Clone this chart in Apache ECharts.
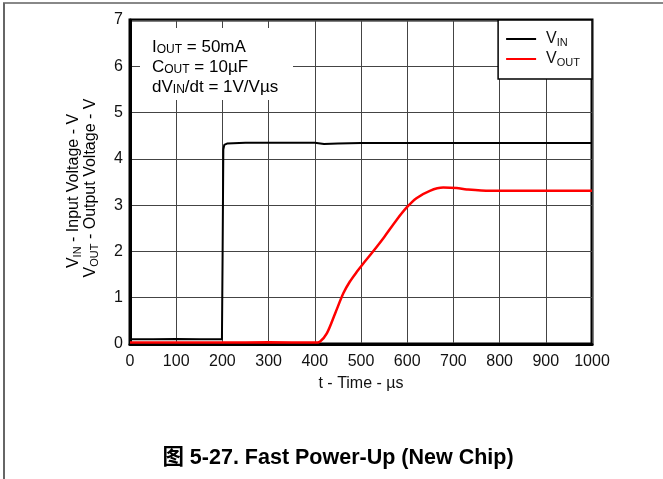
<!DOCTYPE html>
<html>
<head>
<meta charset="utf-8">
<script src="https://cdn.jsdelivr.net/npm/echarts@6/dist/echarts.min.js"></script>
<style>html,body{margin:0;padding:0;background:#fff}#c{width:663px;height:479px}</style>
</head>
<body>
<div id="c"></div>
<script>
// time (µs) and voltage samples
const vinTime = [0, 50, 100, 150, 199, 200.5, 202, 204, 210, 250, 300, 350, 400, 420, 450, 500, 600, 700, 800, 900, 1000];
const vinVolt = [0.1, 0.1, 0.11, 0.1, 0.1, 2.0, 4.2, 4.3, 4.33, 4.35, 4.35, 4.35, 4.35, 4.32, 4.33, 4.34, 4.34, 4.34, 4.34, 4.34, 4.34];
const voutTime = [0, 100, 200, 300, 400, 411, 426, 444, 462, 476, 491, 505, 523, 548, 577, 599, 620, 649, 678, 707, 729, 779, 850, 1000];
const voutVolt = [0.03, 0.03, 0.03, 0.04, 0.03, 0.05, 0.23, 0.66, 1.10, 1.35, 1.56, 1.74, 1.96, 2.28, 2.68, 2.95, 3.15, 3.31, 3.38, 3.37, 3.34, 3.31, 3.31, 3.31];
const xTicks = [0, 100, 200, 300, 400, 500, 600, 700, 800, 900, 1000];
const yTicks = [0, 1, 2, 3, 4, 5, 6, 7];

const FONT = '"Liberation Sans", Arial, sans-serif';
const chart = echarts.init(document.getElementById('c'), null, {renderer: 'canvas'});
const pair = (t, v) => t.map((x, i) => [x, v[i]]);
const mkRich = (fs, sfs) => ({
  m: {fontSize: fs, fontFamily: FONT, color: '#111', lineHeight: 20},
  g: {fontSize: fs, fontFamily: FONT, color: '#111', lineHeight: 20, padding: [0, 0, 0, 5]},
  s: {fontSize: sfs, fontFamily: FONT, color: '#111', lineHeight: 20, verticalAlign: 'bottom', padding: [0, 0, 1, 0]}
});
const rich16 = mkRich(16, 11);
const rich17 = mkRich(17, 12);

chart.setOption({
  animation: false,
  backgroundColor: '#fff',
  grid: {left: 130, right: 71, top: 20, bottom: 135, show: true, borderColor: '#000', borderWidth: 3, backgroundColor: 'transparent'},
  xAxis: {
    type: 'value', min: xTicks[0], max: xTicks[xTicks.length - 1], interval: 100,
    axisLine: {show: true, lineStyle: {color: '#000', width: 3}},
    axisTick: {show: false},
    axisLabel: {fontSize: 16, fontFamily: FONT, color: '#111', margin: 10, formatter: v => String(v)},
    splitLine: {show: true, lineStyle: {color: '#444', width: 1}},
    name: 't - Time - µs', nameLocation: 'middle', nameGap: 32,
    nameTextStyle: {fontSize: 16, fontFamily: FONT, color: '#111'}
  },
  yAxis: {
    type: 'value', min: yTicks[0], max: yTicks[yTicks.length - 1], interval: 1,
    axisLine: {show: true, lineStyle: {color: '#000', width: 3}},
    axisTick: {show: false},
    axisLabel: {fontSize: 16, fontFamily: FONT, color: '#111', margin: 7},
    splitLine: {show: true, lineStyle: {color: '#444', width: 1}}
  },
  legend: {
    right: 71, top: 20, orient: 'vertical', align: 'left',
    backgroundColor: '#fff', borderColor: '#000', borderWidth: 1.5, borderRadius: 0,
    padding: [11, 12, 10, 8], itemGap: 2, itemWidth: 30, itemHeight: 2, icon: 'rect',
    data: ['VIN', 'VOUT'],
    formatter: n => n === 'VIN' ? '{g|V}{s|IN}' : '{g|V}{s|OUT}',
    textStyle: {rich: rich16, fontSize: 16, fontFamily: FONT},
    z: 10
  },
  series: [
    {name: 'VIN', type: 'line', data: pair(vinTime, vinVolt), showSymbol: false, symbol: 'none',
     lineStyle: {color: '#000', width: 2}, itemStyle: {color: '#000'}},
    {name: 'VOUT', type: 'line', data: pair(voutTime, voutVolt), showSymbol: false, symbol: 'none', smooth: 0.3,
     lineStyle: {color: '#f00', width: 2.5}, itemStyle: {color: '#f00'}}
  ],
  graphic: [
    {type: 'line', shape: {x1: 3, y1: 3, x2: 663, y2: 3}, style: {stroke: '#888', lineWidth: 2}, z: 20},
    {type: 'line', shape: {x1: 4, y1: 3, x2: 4, y2: 479}, style: {stroke: '#666', lineWidth: 2}, z: 20},
    {type: 'rect', shape: {x: 140, y: 28, width: 153, height: 72}, style: {fill: '#fff'}, z: 10},
    {type: 'text', x: 152, y: 37, z: 11,
     style: {text: '{m|I}{s|OUT}{m| = 50mA}\n{m|C}{s|OUT}{m| = 10µF}\n{m|dV}{s|IN}{m|/dt = 1V/Vµs}', rich: rich17, verticalAlign: 'top', align: 'left'}},
    {type: 'text', x: 74, y: 191, rotation: Math.PI / 2, z: 11,
     style: {text: '{m|V}{s|IN}{m| - Input Voltage - V}', rich: rich16, align: 'center', verticalAlign: 'middle'}},
    {type: 'text', x: 91, y: 188, rotation: Math.PI / 2, z: 11,
     style: {text: '{m|V}{s|OUT}{m| - Output Voltage - V}', rich: rich16, align: 'center', verticalAlign: 'middle'}},
    {type: 'text', x: 338, y: 458, z: 11,
     style: {text: '图 5-27. Fast Power-Up (New Chip)', font: 'bold 21.5px "Liberation Sans", "Noto Sans CJK SC", sans-serif', fill: '#000', align: 'center', verticalAlign: 'middle'}}
  ]
});
</script>
</body>
</html>
